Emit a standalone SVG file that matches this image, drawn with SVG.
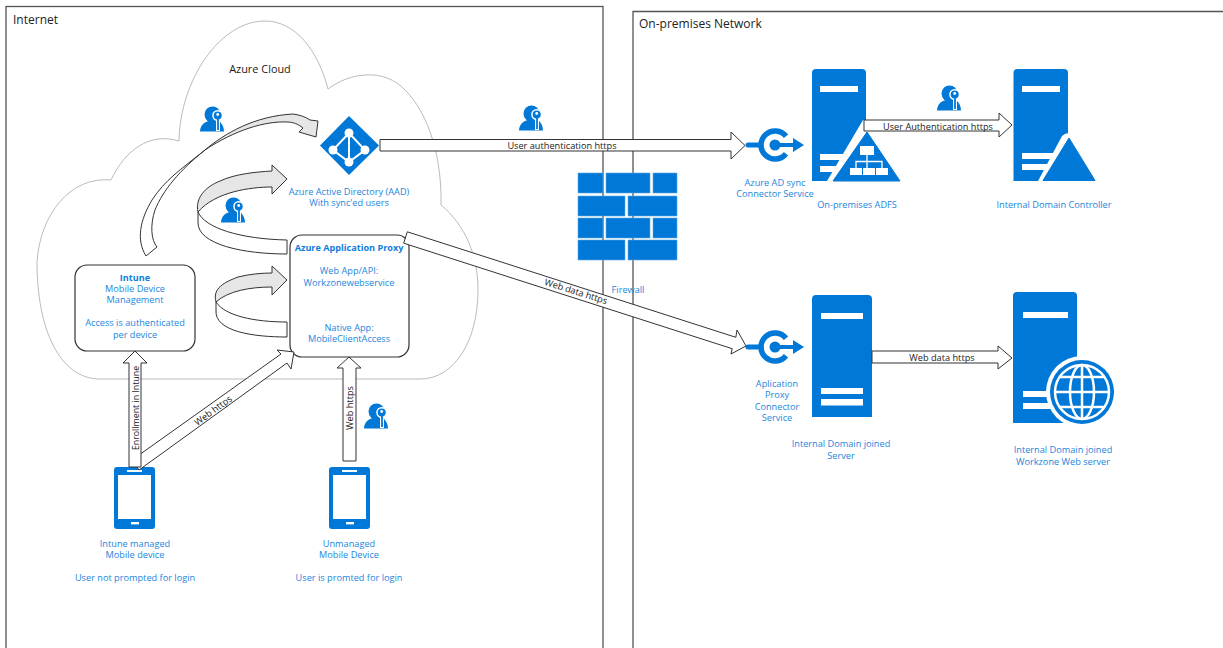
<svg xmlns="http://www.w3.org/2000/svg" xmlns:xlink="http://www.w3.org/1999/xlink" width="1223" height="648" viewBox="0 0 1223 648">
<style>
text{font-family:"Open Sans","Noto Sans","Liberation Sans",sans-serif;font-size:9.2px;fill:#1c86dd;text-anchor:middle}
.b{font-weight:700;fill:#0f7ddb;font-size:9.1px}
.k{fill:#222}
.z{font-size:12px;text-anchor:start;fill:#222}
.zone{fill:none;stroke:#555;stroke-width:1.3}
.ar{fill:#fff;stroke:#333;stroke-width:1;stroke-linejoin:miter}
.gr{fill:#e6e6e6;stroke:#333;stroke-width:1}
.box{fill:#fff;stroke:#333;stroke-width:1.2}
.i{fill:#0078d7}
.w{fill:#fff}
.conn{fill:none;stroke:#0078d7}
</style>
<defs>
<symbol id="keyuser" viewBox="0 0 24 26" width="24" height="26" overflow="visible">
<circle class="i" cx="12.500" cy="8.500" r="8"/>
<path class="i" d="M0,25.500C0,20 4,16 9,15L18,14C22,17 24,21 24,25.500Z"/>
<path d="M18,12V25" stroke="#fff" stroke-width="4" fill="none"/>
<circle cx="17.700" cy="9.500" r="5.500" fill="#fff"/>
<circle class="i" cx="17.700" cy="9.500" r="4"/>
<circle cx="17.700" cy="8.500" r="1.400" fill="#fff"/>
<path d="M18,12V24" stroke="#0078d7" stroke-width="1.800" fill="none"/>
</symbol>
<g id="connector-icon">
<path class="conn" stroke-width="5.500" d="M11,-8.700A14,14 0 1 0 11,8.700"/>
<path class="conn" stroke-width="5" stroke-linecap="round" d="M-27,0H-14"/>
<path class="conn" stroke-width="4" d="M0,0H19"/>
<circle class="i" cx="0" cy="0" r="5.500"/>
<path class="i" d="M18,-7L29,0L18,7Z"/>
</g>
<g id="phone">
<rect class="i" x="0" y="0" width="41" height="62" rx="3"/>
<rect class="w" x="4" y="8" width="33" height="44"/>
<rect class="w" x="13" y="3" width="15" height="2"/>
<rect class="w" x="17" y="55" width="8" height="2.400"/>
</g>
</defs>

<g id="zone-internet"><rect class="zone" x="6" y="6.500" width="597" height="645"/><text class="z" x="13" y="24">Internet</text></g>
<g id="zone-onprem"><path class="zone" d="M633,650V11.500H1225"/><text class="z" x="639" y="28">On-premises Network</text></g>

<g id="azure-cloud">
<path d="M100,379C60,379 37,330 37,262C40,215 70,176 111,180C125,150 150,132 179,141C180,80 220,21 265,21C295,21 318,50 328,89C350,72 385,68 405,90C430,115 442,160 441,205C465,225 478,255 478,290C478,340 455,379 420,379Z" fill="#fff" stroke="#bbb" stroke-width="1"/>
<text class="k" x="260" y="73" style="font-size:10.900px">Azure Cloud</text>
</g>

<g id="user-1"><use xlink:href="#keyuser" href="#keyuser" x="200" y="106"/></g>
<g id="user-2"><use xlink:href="#keyuser" href="#keyuser" x="221" y="197"/></g>
<g id="user-3"><use xlink:href="#keyuser" href="#keyuser" x="364" y="403"/></g>
<g id="user-4"><use xlink:href="#keyuser" href="#keyuser" x="519" y="105"/></g>
<g id="user-5"><use xlink:href="#keyuser" href="#keyuser" x="937" y="85"/></g>

<g id="firewall">
<path class="i" stroke="#5aa9e6" stroke-width=".6" d="M578,173h25v20h-25zM606,173h44v20h-44zM653,173h24v20h-24zM578,196h47v20h-47zM628,196h49v20h-49zM578,218h25v20h-25zM606,218h44v20h-44zM653,218h24v20h-24zM578,240h47v20h-47zM628,240h49v20h-49z"/>
<text x="628" y="293">Firewall</text>
</g>

<g id="aad">
<path class="i" d="M349,116L379,145.500L349,175L320,145.500Z"/>
<path d="M349,133L333,150L349,162L365,150ZM349,133V162" fill="none" stroke="#fff" stroke-width="2"/>
<circle class="w" cx="349" cy="133" r="4.500"/><circle class="w" cx="333" cy="150" r="4.500"/><circle class="w" cx="365" cy="150" r="4.500"/><circle class="w" cx="349" cy="162" r="4.500"/>
<text x="349" y="195">Azure Active Directory (AAD)</text>
<text x="349" y="206">With sync'ed users</text>
</g>

<g id="intune">
<rect class="box" x="75" y="265" width="120" height="86" rx="12"/>
<text class="b" x="135" y="280.500">Intune</text>
<text x="135" y="292">Mobile Device</text>
<text x="135" y="303">Management</text>
<text x="135" y="326">Access is authenticated</text>
<text x="135" y="337.500">per device</text>
</g>

<g id="app-proxy">
<rect class="box" x="290" y="235" width="119" height="122" rx="12"/>
<text class="b" x="349" y="251">Azure Application Proxy</text>
<text x="349" y="274">Web App/API:</text>
<text x="349" y="285.500">Workzonewebservice</text>
<text x="349" y="331">Native App:</text>
<text x="349" y="342">MobileClientAccess</text>
</g>

<g id="phone-managed">
<use xlink:href="#phone" href="#phone" x="114" y="467"/>
<text x="135" y="547">Intune managed</text>
<text x="135" y="558">Mobile device</text>
<text x="135" y="581">User not prompted for login</text>
</g>
<g id="phone-unmanaged">
<use xlink:href="#phone" href="#phone" x="329" y="467"/>
<text x="349" y="547">Unmanaged</text>
<text x="349" y="558">Mobile Device</text>
<text x="349" y="581">User is promted for login</text>
</g>

<g id="aad-sync"><use xlink:href="#connector-icon" href="#connector-icon" x="775" y="145"/>
<text x="775" y="186">Azure AD sync</text><text x="775" y="197">Connector Service</text></g>
<g id="proxy-connector"><use xlink:href="#connector-icon" href="#connector-icon" x="775" y="347"/>
<text x="777" y="387">Aplication</text><text x="777" y="398">Proxy</text><text x="777" y="410">Connector</text><text x="777" y="421">Service</text></g>

<g id="adfs">
<path class="i" d="M812,73a4,4 0 0 1 4,-4h46a4,4 0 0 1 4,4V181H812Z"/>
<path class="w" d="M820,86h38v6h-38zM820,154h38v6h-38zM820,166h38v6h-38z"/>
<path class="w" d="M863,120L867,120L867,181L827,181Z"/>
<path class="i" d="M867,132L900,181H833Z" stroke="#0078d7" stroke-linejoin="round"/>
<path class="w" d="M860,146h14v9h-14zM850,168h12v7h-12zM863,168h12v7h-12zM876,168h12v7h-12z"/>
<path d="M867,155V168M856,168V161.500H882V168" fill="none" stroke="#fff" stroke-width="1.300"/>
<text x="857" y="207.500">On-premises ADFS</text>
</g>

<g id="domain-controller">
<path class="i" d="M1013.500,73a4,4 0 0 1 4,-4h46.500a4,4 0 0 1 4,4V181H1013.500Z"/>
<path class="w" d="M1022,86h38v6h-38zM1022,153h38v6h-38zM1022,164h38v6h-38z"/>
<path class="w" d="M1062,136Q1065,133 1069,133V181H1038Z"/>
<path class="i" d="M1069,138L1095,180.500H1043Z" stroke="#0078d7" stroke-linejoin="round"/>
<text x="1054" y="208">Internal Domain Controller</text>
</g>

<g id="internal-server">
<path class="i" d="M812,299a4,4 0 0 1 4,-4h52a4,4 0 0 1 4,4V417H812Z"/>
<path class="w" d="M821,313h42v6h-42zM821,388h42v6h-42zM821,399h42v6.500h-42z"/>
<text x="841" y="447">Internal Domain joined</text><text x="841" y="458.500">Server</text>
</g>

<g id="web-server">
<path class="i" d="M1013,296a4,4 0 0 1 4,-4h56a4,4 0 0 1 4,4V423H1013Z"/>
<path class="w" d="M1023,312h45v6h-45zM1023,391h45v6h-45zM1023,403h45v6h-45z"/>
<circle class="w" cx="1082" cy="392" r="36"/>
<circle class="i" cx="1082" cy="392" r="32"/>
<g fill="none" stroke="#fff" stroke-width="2.500">
<circle cx="1082" cy="392" r="27"/>
<ellipse cx="1082" cy="392" rx="12" ry="27"/>
<path d="M1082,365V419M1055,392H1109M1059,377H1105M1059,407H1105"/>
</g>
<text x="1063" y="453">Internal Domain joined</text><text x="1063" y="465">Workzone Web server</text>
</g>

<g id="connectors">
<path class="ar" d="M146,256C136,240 140,220 152,200C165,180 180,170 205,150C180,170 163,190 155,210C150,225 151,240 157,247Z"/>
<path class="gr" d="M205,150C225,133 255,116 293,114C300,115 306,117 310,120L318,121L316,137L299,132L303,128C298,124 293,122 287,122C265,121 235,130 205,150Z"/>
<path class="ar" d="M198,212C205,228 240,239 287,240V254C245,254 197,245 198,222Z"/>
<path class="gr" d="M198,212C195,198 205,187 220,181C235,174 255,172 272,171V165L287,179L272,194V187C250,187 215,192 198,212Z"/>
<path class="ar" d="M216,302C225,316 255,322 287,322V337C255,337 214,332 216,310Z"/>
<path class="gr" d="M216,302C212,288 225,282 238,277C250,274 262,273 272,273V266L287,280L272,295V287C250,287 228,291 216,302Z"/>

<g id="edge-aad-sync"><path class="ar" d="M380,139.500H731V132L745,145.500L731,159V151H380Z"/><text class="k" x="562" y="149">User authentication https</text></g>
<g id="edge-web-data"><path class="ar" d="M407.300,231.800L735.800,337.300L737,330L746,346L731,354L732.200,348.700L403.700,243.200Z"/><text class="k" transform="translate(575,294.500) rotate(17.600)">Web data https</text></g>
<g id="edge-user-auth"><path class="ar" d="M864,120H999V113L1012,125L999,137V131H864Z"/><text class="k" x="938" y="129.500">User Authentication https</text></g>
<g id="edge-web-server"><path class="ar" d="M872,351H998V346L1012,358L998,369V363H872Z"/><text class="k" x="942" y="360.500">Web data https</text></g>
<g id="edge-web-https-diag"><path class="ar" d="M132,460L281,354L277,350L294,352L291,369L287,363L139,470Z"/><text class="k" transform="translate(215,413) rotate(-36)">Web https</text></g>
<g id="edge-enroll"><path class="ar" d="M129,467V363H123L135,351L147,363H141V467Z"/><text class="k" transform="translate(138.500,408) rotate(-90)" style="font-size:8.800px">Enrollment in Intune</text></g>
<g id="edge-web-https"><path class="ar" d="M343,461V368H337L349,357L361,368H356V461Z"/><text class="k" transform="translate(352.500,408) rotate(-90)">Web https</text></g>
</g>
</svg>
